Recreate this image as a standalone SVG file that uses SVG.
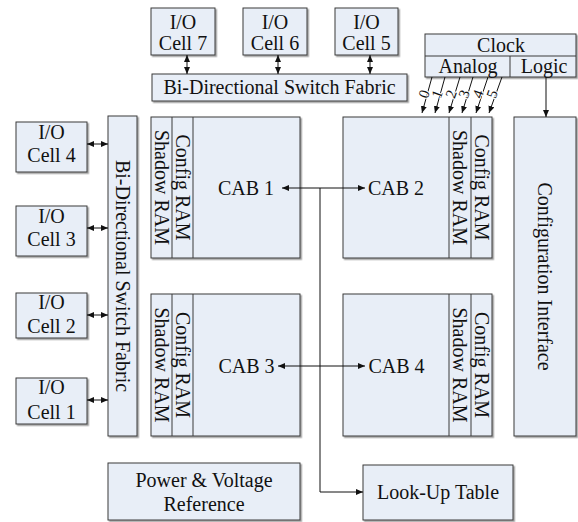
<svg xmlns="http://www.w3.org/2000/svg" width="578" height="522" viewBox="0 0 578 522">
<style>
.box{fill:#E8EEF7;stroke:#3a3a3a;stroke-width:1;filter:url(#sh)}
.div{stroke:#3a3a3a;stroke-width:1;fill:none}
text{font-family:"Liberation Serif","Times New Roman",serif;font-size:20px;fill:#111;text-anchor:middle}
.dg{font-size:15px;stroke:#fff;stroke-width:2;paint-order:stroke}
.c{stroke:#111;stroke-width:1;fill:none}
.ca{stroke:#111;stroke-width:1;fill:none;marker-end:url(#ah)}
.cd{stroke:#111;stroke-width:1;fill:none;marker-start:url(#ah);marker-end:url(#ah)}
</style>
<defs>
<filter id="sh" x="-5%" y="-5%" width="115%" height="115%">
<feDropShadow dx="1.5" dy="1.5" stdDeviation="0.6" flood-color="#888" flood-opacity="0.8"/>
</filter>
<marker id="ah" markerUnits="userSpaceOnUse" markerWidth="8" markerHeight="8" refX="7" refY="3" orient="auto-start-reverse">
<path d="M0,0 L7,3 L0,6 Z" fill="#111"/>
</marker>
</defs>

<g id="io7"><rect class="box" x="151" y="8" width="64" height="47"/><text x="183" y="29">I/O</text><text x="183" y="50">Cell 7</text></g>
<g id="io6"><rect class="box" x="243" y="8" width="64" height="47"/><text x="275" y="29">I/O</text><text x="275" y="50">Cell 6</text></g>
<g id="io5"><rect class="box" x="335" y="8" width="63" height="47"/><text x="366.5" y="29">I/O</text><text x="366.5" y="50">Cell 5</text></g>
<g id="fabric-top"><rect class="box" x="152" y="74" width="255" height="27"/><text x="279.5" y="94">Bi-Directional Switch Fabric</text></g>

<g id="clock"><rect class="box" x="425" y="34" width="151" height="43"/>
<line class="div" x1="425" y1="56" x2="576" y2="56"/><line class="div" x1="510" y1="56" x2="510" y2="77"/>
<text x="501" y="52">Clock</text><text x="468" y="73">Analog</text><text x="544" y="73">Logic</text></g>

<g id="io4"><rect class="box" x="16" y="122" width="71" height="50"/><text x="51.5" y="139">I/O</text><text x="51.5" y="162">Cell 4</text></g>
<g id="io3"><rect class="box" x="16" y="206" width="71" height="50"/><text x="51.5" y="223">I/O</text><text x="51.5" y="246">Cell 3</text></g>
<g id="io2"><rect class="box" x="16" y="293" width="71" height="45"/><text x="51.5" y="309">I/O</text><text x="51.5" y="333">Cell 2</text></g>
<g id="io1"><rect class="box" x="16" y="378" width="71" height="46"/><text x="51.5" y="394">I/O</text><text x="51.5" y="419">Cell 1</text></g>
<g id="fabric-left"><rect class="box" x="108" y="116" width="29" height="320"/><text transform="translate(122.5,276) rotate(90)" x="0" y="7">Bi-Directional Switch Fabric</text></g>

<g id="cab1"><rect class="box" x="151" y="117" width="149" height="141"/>
<line class="div" x1="172" y1="117" x2="172" y2="258"/><line class="div" x1="193" y1="117" x2="193" y2="258"/>
<text transform="translate(161.5,187.5) rotate(90)" x="0" y="7">Shadow RAM</text>
<text transform="translate(182.5,187.5) rotate(90)" x="0" y="7">Config RAM</text>
<text x="246" y="195">CAB 1</text></g>

<g id="cab2"><rect class="box" x="343" y="117" width="149" height="141"/>
<line class="div" x1="449" y1="117" x2="449" y2="258"/><line class="div" x1="471" y1="117" x2="471" y2="258"/>
<text transform="translate(460,187.5) rotate(90)" x="0" y="7">Shadow RAM</text>
<text transform="translate(481.5,187.5) rotate(90)" x="0" y="7">Config RAM</text>
<text x="396" y="195">CAB 2</text></g>

<g id="cab3"><rect class="box" x="151" y="294" width="149" height="142"/>
<line class="div" x1="172" y1="294" x2="172" y2="436"/><line class="div" x1="193" y1="294" x2="193" y2="436"/>
<text transform="translate(161.5,365) rotate(90)" x="0" y="7">Shadow RAM</text>
<text transform="translate(182.5,365) rotate(90)" x="0" y="7">Config RAM</text>
<text x="246.5" y="373">CAB 3</text></g>

<g id="cab4"><rect class="box" x="343" y="294" width="149" height="142"/>
<line class="div" x1="449" y1="294" x2="449" y2="436"/><line class="div" x1="471" y1="294" x2="471" y2="436"/>
<text transform="translate(460,365) rotate(90)" x="0" y="7">Shadow RAM</text>
<text transform="translate(481.5,365) rotate(90)" x="0" y="7">Config RAM</text>
<text x="396.5" y="373">CAB 4</text></g>

<g id="config-interface"><rect class="box" x="514" y="117" width="62" height="319"/><text transform="translate(545,276.5) rotate(90)" x="0" y="7">Configuration Interface</text></g>

<g id="power"><rect class="box" x="108" y="463" width="192" height="57"/><text x="204" y="487">Power &amp; Voltage</text><text x="204" y="511">Reference</text></g>
<g id="lut"><rect class="box" x="363" y="465" width="150" height="55"/><text x="438" y="499">Look-Up Table</text></g>

<g id="connectors">
<line class="cd" x1="187" y1="55" x2="187" y2="74"/>
<line class="cd" x1="278" y1="55" x2="278" y2="74"/>
<line class="cd" x1="370" y1="55" x2="370" y2="74"/>
<line class="cd" x1="87" y1="144" x2="108" y2="144"/>
<line class="cd" x1="87" y1="228" x2="108" y2="228"/>
<line class="cd" x1="87" y1="315" x2="108" y2="315"/>
<line class="cd" x1="87" y1="400" x2="108" y2="400"/>
<line class="cd" x1="282" y1="188" x2="365" y2="188"/>
<line class="cd" x1="278" y1="366" x2="365" y2="366"/>
<polyline class="ca" points="320,188 320,492 363,492"/>
<line class="ca" x1="546" y1="77" x2="546" y2="117"/>
<line class="ca" x1="432" y1="77" x2="422" y2="113"/>
<line class="ca" x1="445" y1="77" x2="435" y2="113"/>
<line class="ca" x1="460" y1="77" x2="449" y2="113"/>
<line class="ca" x1="473" y1="77" x2="462" y2="113"/>
<line class="ca" x1="488" y1="77" x2="476" y2="113"/>
<line class="ca" x1="502" y1="77" x2="489" y2="113"/>
<text class="dg" transform="translate(424,94) rotate(-70)" x="0" y="5">0</text>
<text class="dg" transform="translate(437,94) rotate(-70)" x="0" y="5">1</text>
<text class="dg" transform="translate(451,94) rotate(-70)" x="0" y="5">2</text>
<text class="dg" transform="translate(464,94) rotate(-70)" x="0" y="5">3</text>
<text class="dg" transform="translate(478,94) rotate(-70)" x="0" y="5">4</text>
<text class="dg" transform="translate(492,94) rotate(-70)" x="0" y="5">5</text>
</g>
</svg>
